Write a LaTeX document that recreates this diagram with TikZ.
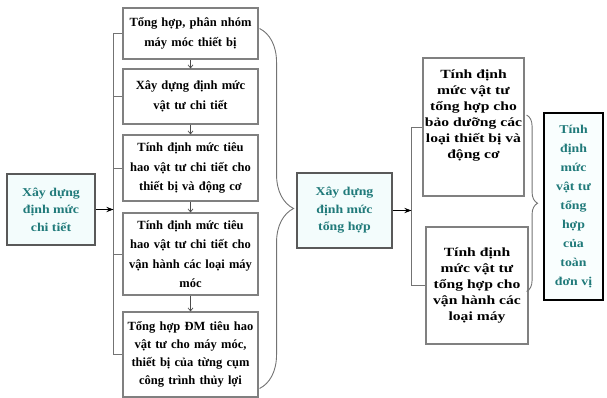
\documentclass[tikz,border=0pt]{standalone}
\usepackage{fontspec}
\setmainfont{Liberation Serif}
\newfontfamily\keyfont[FakeStretch=1.15]{Liberation Serif}
\newfontfamily\sumfont[FakeStretch=1.25]{Liberation Serif}
\usetikzlibrary{positioning, arrows.meta, calc, decorations.pathreplacing}
\definecolor{tealtext}{RGB}{32,122,122}
\definecolor{keyfill}{RGB}{243,252,252}
\newcommand{\bracegap}{9pt}

\begin{document}
\begin{tikzpicture}[
    x=1pt, y=-1pt,
    stepbox/.style={
        rectangle,
        draw=black!50,
        line width=1.1pt,
        fill=white,
        align=center,
        text width=131pt,
        inner sep=2pt,
        font=\fontsize{12.5}{19.5}\selectfont\bfseries
    },
    keybox/.style={
        rectangle,
        draw=black!65,
        line width=2.4pt,
        fill=keyfill,
        align=center,
        text=tealtext,
        inner sep=2pt,
        font=\keyfont\fontsize{12}{17.5}\selectfont\bfseries
    },
    sumbox/.style={
        rectangle,
        draw=black!50,
        line width=1.1pt,
        fill=white,
        align=center,
        inner sep=2pt,
        font=\sumfont\fontsize{12.5}{16}\selectfont\bfseries
    },
    brace/.style={
        draw=black!55,
        line width=0.9pt,
        decorate
    },
    >=Stealth
]
    \useasboundingbox (0,0) rectangle (607,398);

    % --- left start box ---
    \node[keybox, minimum width=88pt, minimum height=71pt] (detail) at (51,209.5)
        {Xây dựng\\định mức\\chi tiết};

    % --- column of detail steps ---
    \node[stepbox, minimum height=51pt] (b1) at (190.5,33.5)
        {Tổng hợp, phân nhóm\\máy móc thiết bị};
    \node[stepbox, minimum height=55pt] (b2) at (190.5,96.5)
        {Xây dựng định mức\\vật tư chi tiết};
    \node[stepbox, minimum height=66pt] (b3) at (190.5,168)
        {Tính định mức tiêu\\hao vật tư chi tiết cho\\thiết bị và động cơ};
    \node[stepbox, minimum height=82pt] (b4) at (190.5,254)
        {Tính định mức tiêu\\hao vật tư chi tiết cho\\vận hành các loại máy\\móc};
    \node[stepbox, minimum height=85pt, font=\fontsize{12.5}{18}\selectfont\bfseries] (b5) at (190.5,354.5)
        {Tổng hợp ĐM tiêu hao\\vật tư cho máy móc,\\thiết bị của từng cụm\\công trình thủy lợi};

    % --- middle box ---
    \node[keybox, minimum width=95pt, minimum height=75pt] (total) at (344.5,210.5)
        {Xây dựng\\định mức\\tổng hợp};

    % --- right summary boxes ---
    \node[sumbox, minimum width=101pt, minimum height=138pt] (ru) at (473.5,127)
        {Tính định\\mức vật tư\\tổng hợp cho\\bảo dưỡng các\\loại thiết bị và\\động cơ\\[10pt]};
    \node[sumbox, minimum width=102pt, minimum height=117pt] (rl) at (477,285.5)
        {Tính định\\mức vật tư\\tổng hợp cho\\vận hành các\\loại máy};

    % --- final box ---
    \node[keybox, draw=black, line width=1.5pt, fill=keyfill!50, minimum width=59pt, minimum height=187pt,
          font=\keyfont\fontsize{12}{19}\selectfont\bfseries] (unit) at (573.5,206.5)
        {Tính\\định\\mức\\vật tư\\tổng\\hợp\\của\\toàn\\đơn vị};

    % --- left bracket into the column ---
    \coordinate (ltop) at ($(b1.west)-(\bracegap,0)$);
    \coordinate (lbot) at (ltop |- b5.west);
    \draw[black!55, line width=0.9pt] (b1.west) -- (ltop) -- (lbot) -- (b5.west);
    \foreach \b in {b2,b3,b4}
        \draw[black!55, line width=0.9pt] (\b.west) -- (\b.west -| ltop);
    \draw[line width=0.9pt, ->] (detail.east) -- (detail.east -| ltop);

    % --- arrows down the column ---
    \foreach \a/\b in {b1/b2, b2/b3, b3/b4, b4/b5}
        \draw[black!70, line width=0.7pt, -{Straight Barb[length=3pt,width=5pt]}] (\a.south) -- (\b.north);

    % --- big brace to the middle box ---
    \coordinate (btop) at ($(b1.east)+(1,-5)$);
    \coordinate (bbot) at ($(b5.east)+(1,34)$);
    \draw[brace, decoration={brace, amplitude=34pt, aspect=0.5}] (btop) -- (bbot);

    % --- right bracket to the summary boxes ---
    \coordinate (rtop) at ($(ru.west)-(11,0)$);
    \coordinate (rbot) at (rtop |- rl.west);
    \draw[black!55, line width=0.9pt] (ru.west) -- (rtop) -- (rbot) -- (rl.west);
    \draw[line width=0.9pt, ->] (total.east) -- (total.east -| rtop);

    % --- small brace to the final box ---
    \coordinate (rbtop) at ($(ru.east)+(2,-12)$);
    \coordinate (rbbot) at ($(rbtop |- rl.east)+(0,6)$);
    \draw[brace, decoration={brace, amplitude=11pt, aspect=0.5}] (rbtop) -- (rbbot);

\end{tikzpicture}
\end{document}
